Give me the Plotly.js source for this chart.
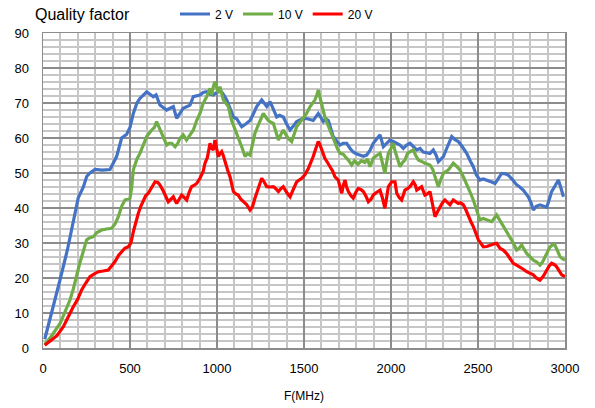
<!DOCTYPE html>
<html>
<head>
<meta charset="utf-8">
<script src="https://cdn.plot.ly/plotly-3.0.1.min.js"></script>
<style>html,body{margin:0;padding:0;background:#fff;}#chart{width:595px;height:408px;}</style>
</head>
<body>
<div id="chart"></div>
<script>
// Series names
const seriesNames = ["2 V", "10 V", "20 V"];
const seriesColors = ["#4472C4", "#70AD47", "#FF0000"];

// [frequency MHz, quality factor]
const points2V = [[10,2.5],[50,10],[98,19.5],[140,28],[174,36.5],[203,43],[232,46],[251,49],[270,50],[299,51],[340,50.8],[385,51],[423,54.7],[452,60],[480,61],[500,63],[519,67],[540,70],[557,71.3],[596,73.2],[615,72.5],[634,71.8],[650,72.3],[672,69.4],[711,68],[730,68.5],[749,69],[768,65.6],[790,67.5],[806,68.5],[845,69.4],[864,71.8],[902,72.3],[920,73],[941,73.2],[960,72.5],[979,72.3],[1000,73],[1017,73.7],[1036,72.5],[1056,70.9],[1075,68.5],[1094,66],[1113,65.5],[1142,63.2],[1165,64],[1190,65],[1210,67],[1228,69],[1257,70.9],[1275,69.5],[1286,69],[1305,70.4],[1325,68],[1343,66],[1360,66.5],[1381,66],[1400,64],[1420,62.3],[1440,63.5],[1458,64.7],[1496,65.6],[1520,65.5],[1553,65],[1570,66],[1582,67],[1595,66],[1611,64.7],[1625,65.5],[1640,65],[1655,62.5],[1668,60.4],[1690,59],[1707,58],[1725,58.5],[1745,58.5],[1765,57],[1783,56],[1800,55.5],[1822,55.1],[1841,54.8],[1860,55.1],[1880,56.5],[1898,58.5],[1920,60],[1937,60.9],[1956,57.5],[1975,58.5],[1994,59.4],[2013,59],[2033,58.5],[2052,58],[2071,57],[2090,58],[2109,58.5],[2128,57.5],[2148,56.6],[2167,57],[2185,56],[2205,55.8],[2224,55.6],[2243,56.6],[2260,55],[2272,53.2],[2290,54],[2301,54.7],[2320,57],[2335,59],[2349,60.4],[2368,59.5],[2387,59],[2410,57.5],[2435,55.6],[2455,53.5],[2473,51.8],[2490,49.5],[2511,48],[2530,48.3],[2550,48],[2575,47.5],[2598,47],[2620,48.5],[2636,49.9],[2655,49.8],[2674,49.4],[2700,48],[2722,46.6],[2740,46],[2760,45.1],[2789,43.2],[2805,41.5],[2818,39.4],[2835,40.5],[2856,40.9],[2875,40.5],[2895,40.2],[2910,42.5],[2923,44.7],[2945,46.5],[2962,48],[2975,46],[2991,43.2]];

const points10V = [[10,1],[50,3.5],[98,7],[130,10.5],[155,13.7],[175,17],[194,21.3],[210,24],[222,26],[235,28],[251,30.9],[270,31.5],[289,31.8],[310,33],[337,33.7],[365,34],[395,34.2],[415,35.5],[433,37.5],[452,40.5],[471,42.3],[500,42.8],[510,46],[519,50.9],[540,54],[557,55.6],[575,58],[596,60.4],[625,62.3],[640,63],[653,64.7],[668,63],[682,61.3],[700,59.5],[711,58],[725,58.5],[740,58.5],[759,57.5],[775,58.5],[787,59.9],[806,60.9],[825,59.4],[845,61],[864,62.3],[883,65],[902,67],[921,69.9],[941,71.8],[960,74.2],[970,72.3],[979,74.7],[988,76.1],[998,74.5],[1008,72.8],[1017,74.7],[1027,73],[1036,70.9],[1050,70],[1065,69],[1084,65],[1100,63],[1113,61.3],[1127,59.5],[1142,57.5],[1161,54.7],[1175,55.5],[1190,55.1],[1205,58],[1218,61.3],[1235,63.5],[1247,65],[1266,67],[1280,66],[1295,65],[1310,64.5],[1324,64.2],[1340,61.5],[1353,59.4],[1367,61],[1381,62.3],[1395,61],[1410,59.9],[1429,59],[1445,61.5],[1458,63.2],[1477,64.5],[1496,65.6],[1515,67],[1535,69],[1550,70],[1563,70.9],[1575,72.5],[1582,73.7],[1592,71.5],[1601,69.4],[1620,66],[1635,64],[1649,62.3],[1665,60.5],[1678,58.5],[1692,57],[1707,55.6],[1725,55.4],[1740,54.5],[1755,53.7],[1774,52.3],[1790,53.5],[1810,52.5],[1830,53.5],[1850,53],[1865,54],[1879,51.8],[1898,54.2],[1918,55],[1937,55.6],[1950,53],[1965,49.9],[1975,53],[1985,55.6],[2000,57],[2013,58.5],[2025,56],[2042,53],[2052,51.8],[2066,53],[2080,53.7],[2095,55.6],[2110,56],[2128,56.6],[2142,55],[2157,53.7],[2176,53.3],[2195,52.8],[2224,52.3],[2240,51],[2253,48.9],[2272,46.1],[2285,48],[2301,49.9],[2330,50.9],[2345,52],[2358,52.8],[2375,52],[2396,50.9],[2415,49],[2435,47],[2455,44.5],[2473,42.3],[2490,39.5],[2511,36.6],[2530,37],[2550,36.6],[2579,36.1],[2607,38],[2625,36.5],[2646,34.7],[2665,33],[2684,31.8],[2703,30],[2722,28],[2736,28.5],[2751,29.4],[2765,28],[2780,27],[2800,26],[2818,25.1],[2840,24.5],[2856,23.7],[2870,24.5],[2885,26.1],[2900,27.5],[2914,28.9],[2930,29.5],[2942,29.4],[2955,28],[2971,26.1],[2985,25.5],[3000,25.1]];

const points20V = [[10,0.8],[40,2],[80,3.5],[117,6.1],[145,9],[174,11.8],[200,14],[222,16.6],[245,18.5],[270,20.4],[295,21.2],[318,21.8],[345,22],[375,22.3],[395,23.5],[414,24.7],[435,26.5],[452,27.5],[470,28.5],[490,28.9],[505,30],[519,33.2],[533,36],[548,38.5],[562,40.5],[576,42.3],[590,43.5],[605,44.2],[625,46],[644,47.5],[660,47.3],[672,46.6],[690,45],[705,43.5],[720,41.8],[735,42.5],[749,43.2],[768,41.3],[783,42.5],[797,43.7],[812,43],[826,42.3],[840,44.5],[854,46.1],[870,46.5],[883,47],[902,48.5],[921,50.5],[931,52.8],[945,54.5],[960,58.5],[970,57],[979,56.6],[988,59.4],[998,57],[1008,54.7],[1017,55.5],[1027,56.1],[1036,55],[1046,53],[1060,51],[1075,48.9],[1094,44.7],[1108,44],[1122,43.7],[1137,42.5],[1151,41.8],[1170,41],[1190,39.4],[1205,40.5],[1218,42.8],[1238,45.5],[1257,48.5],[1270,47.5],[1286,46.1],[1305,46],[1324,46.1],[1338,45.5],[1353,44.7],[1367,45.5],[1381,46.1],[1400,44.5],[1420,43.2],[1440,45.5],[1458,47.5],[1487,48.5],[1505,49.5],[1525,51.3],[1540,53],[1553,54.7],[1568,57],[1582,59],[1592,58],[1601,56.6],[1620,54.2],[1635,53],[1649,51.8],[1665,50.5],[1678,48.9],[1697,48],[1707,46],[1717,44.2],[1726,46.5],[1736,48],[1745,46],[1755,44.7],[1770,43.5],[1783,42.8],[1798,44.5],[1812,45.6],[1826,45.3],[1841,44.7],[1855,43.5],[1870,41.8],[1885,42.5],[1898,43.7],[1918,44.5],[1937,45.1],[1950,43],[1965,39.9],[1975,43],[1985,46.1],[2004,47.5],[2023,47.5],[2033,44.2],[2047,43],[2061,42.3],[2080,45.1],[2095,45.5],[2109,46.1],[2128,47.5],[2140,46.5],[2148,45.1],[2163,45.5],[2176,46.1],[2195,43.7],[2210,44],[2224,44.7],[2240,41],[2253,37.5],[2268,39],[2282,40.4],[2296,41.5],[2310,42.3],[2325,41.5],[2339,40.9],[2358,42.3],[2372,41.8],[2387,41.3],[2400,41.5],[2416,40.9],[2430,39.5],[2445,37.5],[2460,36],[2473,34.7],[2488,33],[2502,30.9],[2515,30],[2531,28.9],[2550,29],[2569,29.4],[2590,29.7],[2607,29.9],[2626,28.5],[2645,28],[2665,27],[2685,25.5],[2703,24.2],[2722,23.7],[2741,23.2],[2760,22.5],[2780,21.8],[2800,21.3],[2818,20.9],[2835,20],[2856,19.4],[2875,20.5],[2895,22.3],[2910,23.5],[2923,24.2],[2940,23.8],[2952,23.2],[2965,22],[2981,20.9],[3000,20.4]];

const allPoints = [points2V, points10V, points20V];

const xTickVals = [0, 500, 1000, 1500, 2000, 2500, 3000];
const yTickVals = [0, 10, 20, 30, 40, 50, 60, 70, 80, 90];

const traces = allPoints.map((pts, i) => ({
  type: 'scatter',
  mode: 'lines',
  name: seriesNames[i],
  x: pts.map(p => p[0]),
  y: pts.map(p => p[1]),
  line: {color: seriesColors[i], width: 3.2}
}));

const FONT = 'Liberation Sans, Arial, sans-serif';

const layout = {
  width: 595, height: 408,
  margin: {l: 43, r: 30, t: 33, b: 60, autoexpand: false},
  paper_bgcolor: '#fff', plot_bgcolor: '#fff',
  font: {family: FONT, size: 13, color: '#000'},
  title: {text: 'Quality factor', x: 35/595, xanchor: 'left', xref: 'container',
          y: 1 - 14/408, yanchor: 'middle', yref: 'container', automargin: false,
          font: {family: FONT, size: 16, color: '#000'}},
  showlegend: true,
  legend: {orientation: 'h', x: 175/595, xref: 'container', xanchor: 'left',
           y: 1 - 14/408, yref: 'container', yanchor: 'middle',
           font: {family: FONT, size: 12, color: '#000'}, itemwidth: 30, tracegroupgap: 0,
           bgcolor: 'rgba(0,0,0,0)'},
  xaxis: {
    range: [0, 3000], tickvals: xTickVals, ticktext: xTickVals.map(String),
    showgrid: true, gridcolor: '#8c8c8c', gridwidth: 1.5,
    minor: {dtick: 100, showgrid: true, gridcolor: '#c6c6c6', gridwidth: 2, tick0: 0},
    showline: true, linecolor: '#8c8c8c', linewidth: 1.5, mirror: true,
    zeroline: false, ticks: '', ticklabelstandoff: 8, automargin: false,
    title: {text: 'F(MHz)', font: {family: FONT, size: 12, color: '#000'}, standoff: 16}
  },
  yaxis: {
    range: [0, 90], tickvals: yTickVals, ticktext: yTickVals.map(String),
    showgrid: true, gridcolor: '#8c8c8c', gridwidth: 1.5,
    minor: {dtick: 2, showgrid: true, gridcolor: '#c6c6c6', gridwidth: 2, tick0: 0},
    showline: true, linecolor: '#8c8c8c', linewidth: 1.5, mirror: true,
    zeroline: false, ticks: '', ticklabelstandoff: 10, automargin: false
  }
};

Plotly.newPlot('chart', traces, layout, {displayModeBar: false, staticPlot: true});
</script>
</body>
</html>
